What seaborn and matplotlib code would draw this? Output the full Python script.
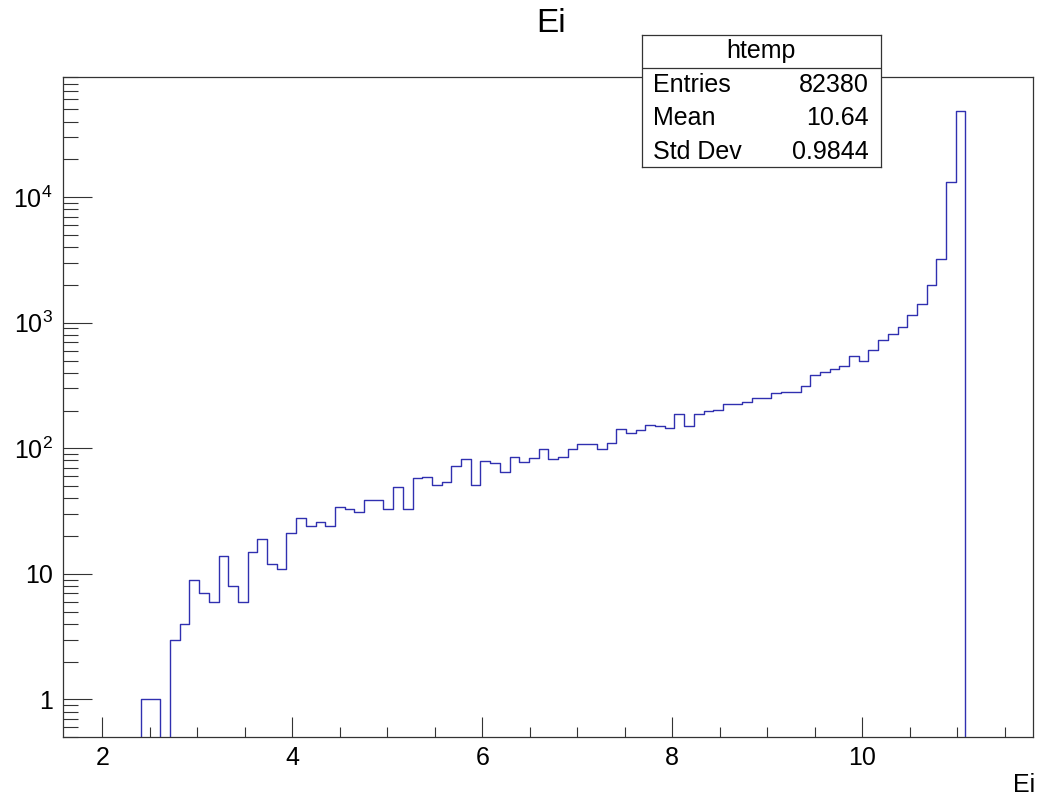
import matplotlib
matplotlib.use("Agg")
import matplotlib.pyplot as plt
from matplotlib.ticker import FuncFormatter, LogLocator, MultipleLocator, NullFormatter
import numpy as np
import pandas as pd
import seaborn as sns


# histogram range (ROOT auto range, 100 bins)
X_LOW, X_HIGH, N_BINS = 1.589, 11.80, 100

# bin contents
COUNTS = (
    [0] * 8
    + [1, 1, 0, 3, 4, 9, 7, 6, 14, 8, 6, 15, 19, 12, 11, 21, 28, 24, 26, 24,
       34, 33, 31, 39, 39, 33, 49, 33, 58, 59, 51, 54, 72, 82, 51, 79, 76, 65,
       85, 78, 83, 99, 82, 86, 99, 108, 108, 99, 110, 142, 133, 139, 154, 150,
       145, 188, 150, 188, 198, 203, 225, 226, 234, 253, 250, 278, 280, 279,
       312, 384, 403, 430, 450, 547, 499, 604, 730, 819, 921, 1161, 1404, 2000,
       3243, 13240, 48440]
    + [0] * 7
)

STATS_NAME = "htemp"
STATS_LABELS = ["Entries", "Mean", "Std Dev"]
STATS_VALUES = ["82380", "10.64", "0.9844"]

Y_MIN, Y_MAX = 0.5, 9.1e4
LINE_COLOR = "#3030b0"


def log_label(v, pos):
    k = int(round(np.log10(v)))
    if k == 0:
        return "1"
    if k == 1:
        return "10"
    return rf"$10^{{{k}}}$"


sns.set_style("white")
plt.rcParams["font.family"] = ["Liberation Sans", "DejaVu Sans"]
plt.rcParams["mathtext.default"] = "regular"
plt.rcParams["text.color"] = "black"
plt.rcParams["xtick.color"] = "black"
plt.rcParams["ytick.color"] = "black"

W, H = 1043, 796
fig = plt.figure(figsize=(W / 100, H / 100), dpi=100)
ax = fig.add_axes([63.3 / W, 1 - 737.3 / H, (1033.3 - 63.3) / W, (737.3 - 76.7) / H])

width = (X_HIGH - X_LOW) / N_BINS
df = pd.DataFrame({
    "Ei": X_LOW + width * (np.arange(N_BINS) + 0.5),
    "n": COUNTS,
})
sns.histplot(
    data=df, x="Ei", weights="n", bins=N_BINS, binrange=(X_LOW, X_HIGH),
    element="step", fill=False, color=LINE_COLOR, linewidth=1.0, ax=ax,
)
ax.set_yscale("log")
ax.set_xlim(X_LOW, X_HIGH)
ax.set_ylim(Y_MIN, Y_MAX)
ax.set_xlabel("")
ax.set_ylabel("")

# ROOT-like axes: ticks inside, none on top/right
ax.xaxis.set_major_locator(MultipleLocator(2))
ax.xaxis.set_minor_locator(MultipleLocator(0.5))
ax.yaxis.set_major_locator(LogLocator(base=10, numticks=12))
ax.yaxis.set_minor_locator(LogLocator(base=10, subs=np.arange(2, 10), numticks=30))
ax.yaxis.set_major_formatter(FuncFormatter(log_label))
ax.yaxis.set_minor_formatter(NullFormatter())
ax.tick_params(which="both", direction="in", bottom=True, left=True, top=False, right=False,
               width=0.8, color="#333333", labelcolor="black")
ax.tick_params(axis="x", which="major", length=14.4, pad=6.0, labelsize=18)
ax.tick_params(axis="x", which="minor", length=7.2)
ax.tick_params(axis="y", which="major", length=21, pad=7.6, labelsize=18)
ax.tick_params(axis="y", which="minor", length=11)
for side in ax.spines.values():
    side.set_color("#333333")
    side.set_linewidth(0.9)

fig.text(551 / W, 1 - 23 / H, "Ei", ha="center", va="center", fontsize=24)
fig.text(1035 / W, 1 - 785 / H, "Ei", ha="right", va="center", fontsize=18)

# stats box
box_l, box_r, box_t, box_b = 641.7, 880.7, 35.0, 166.7
sax = fig.add_axes([box_l / W, 1 - box_b / H, (box_r - box_l) / W, (box_b - box_t) / H])
sax.set_xlim(0, 1)
sax.set_ylim(0, 1)
sax.set_xticks([])
sax.set_yticks([])
sax.set_facecolor("white")
for side in sax.spines.values():
    side.set_color("#333333")
    side.set_linewidth(0.9)
sax.axhline(0.747, color="#333333", linewidth=0.9)
sax.text(0.5, 0.88, STATS_NAME, ha="center", va="center", fontsize=18)
for row, (label, value) in enumerate(zip(STATS_LABELS, STATS_VALUES)):
    y = 0.62 - row * 0.253
    sax.text(0.049, y, label, ha="left", va="center", fontsize=18)
    sax.text(0.952, y, value, ha="right", va="center", fontsize=18)

fig.savefig("out.png", dpi=100)
